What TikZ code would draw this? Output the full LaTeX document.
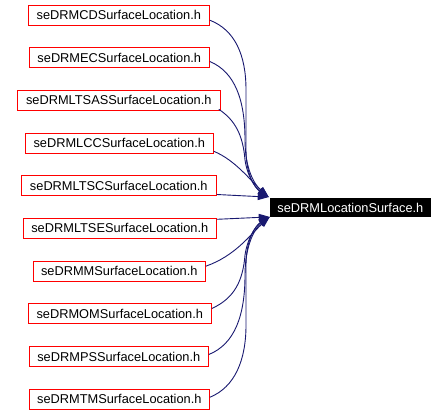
\documentclass[tikz,border=0pt]{standalone}
\usepackage{fontspec}
\setmainfont{Liberation Sans}
\usetikzlibrary{arrows.meta,calc}
\definecolor{edgeblue}{HTML}{191970}
\definecolor{boxred}{HTML}{FF0000}
\begin{document}
\begin{tikzpicture}[x=1pt,y=-1pt,
  file/.style={draw=boxred,line width=1pt,fill=white,inner sep=0pt,minimum height=20pt,
    font=\fontsize{12.8}{14}\selectfont},
  tgtbox/.style={fill=black,text=white,inner sep=0pt,minimum height=18.4pt,minimum width=161pt,
    font=\fontsize{12.8}{14}\selectfont},
  dep/.style={draw=edgeblue,line width=0.9pt,-{Triangle[length=11pt,width=7pt]}}]
\useasboundingbox (0,0) rectangle (446,414);
\node[file,minimum width=181pt] (cd) at (118.8,15.2) {seDRMCDSurfaceLocation.h};
\node[file,minimum width=180pt] (ec) at (119.3,57.5) {seDRMECSurfaceLocation.h};
\node[file,minimum width=203pt] (ltsas) at (118.8,100.3) {seDRMLTSASSurfaceLocation.h};
\node[file,minimum width=188pt] (lcc) at (119.3,143.3) {seDRMLCCSurfaceLocation.h};
\node[file,minimum width=195pt] (ltsc) at (118.8,185.5) {seDRMLTSCSurfaceLocation.h};
\node[file,minimum width=193pt] (ltse) at (119.8,228.3) {seDRMLTSESurfaceLocation.h};
\node[file,minimum width=172pt] (mm) at (119.3,271.2) {seDRMMSurfaceLocation.h};
\node[file,minimum width=183pt] (om) at (119.8,313.5) {seDRMOMSurfaceLocation.h};
\node[file,minimum width=179pt] (ps) at (118.8,356.5) {seDRMPSSurfaceLocation.h};
\node[file,minimum width=180pt] (tm) at (119.3,399.3) {seDRMTMSurfaceLocation.h};
\node[tgtbox] (tgt) at (350.4,207.5) {seDRMLocationSurface.h};
\coordinate (up) at ($(tgt.north west)+(-1,-1)$);
\coordinate (lo) at (tgt.south west);
% upper edges
\draw[dep] ($(cd.east)+(0,5)$) .. controls (235,30) and (246,55) .. (246,90) -- (246,150) .. controls (246,175) and (255,188) .. (up);
\draw[dep] ($(ec.east)+(0,4)$) .. controls (235,72) and (245,100) .. (245,140) .. controls (245,170) and (255,185) .. (up);
\draw[dep] ($(ltsas.east)+(-2,9)$) .. controls (235,120) and (243,135) .. (245,160) .. controls (248,180) and (258,190) .. (up);
\draw[dep] ($(lcc.east)+(0,8)$) .. controls (235,160) and (250,180) .. (up);
\draw[dep] ($(ltsc.east)+(0,9)$) -- (up);
% lower edges
\draw[dep] ($(ltse.east)+(0,-9)$) -- (lo);
\draw[dep] ($(mm.east)+(0,-5)$) .. controls (235,256) and (250,235) .. (lo);
\draw[dep] ($(om.east)+(0,-5)$) .. controls (235,298) and (243,280) .. (245,255) .. controls (248,235) and (258,224) .. (lo);
\draw[dep] ($(ps.east)+(0,-2)$) .. controls (235,344) and (245,315) .. (245,275) .. controls (245,245) and (255,228) .. (lo);
\draw[dep] ($(tm.east)+(0,-2)$) .. controls (235,387) and (246,360) .. (246,325) -- (246,265) .. controls (246,240) and (255,226) .. (lo);
\end{tikzpicture}
\end{document}
